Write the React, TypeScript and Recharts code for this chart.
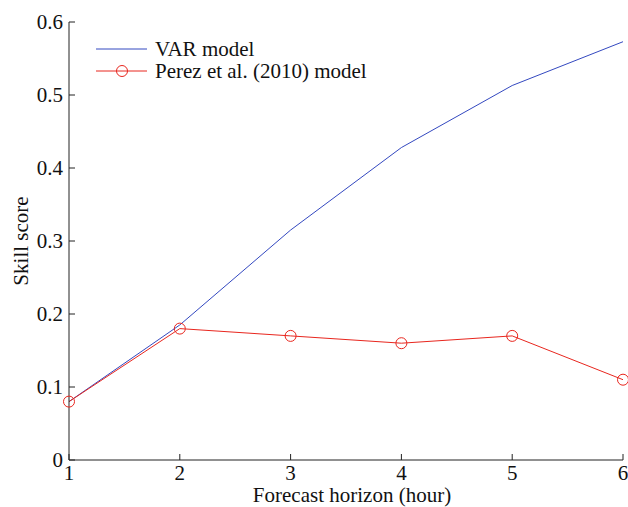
import React from "react";
import { Line, LineChart, XAxis, YAxis } from "recharts";

const horizons = [1, 2, 3, 4, 5, 6];
const varModel = [0.08, 0.185, 0.315, 0.428, 0.513, 0.573];
const perezModel = [0.08, 0.18, 0.17, 0.16, 0.17, 0.11];
const yTicks = [0, 0.1, 0.2, 0.3, 0.4, 0.5, 0.6];

const data = horizons.map((h, i) => ({
  hour: h,
  varModel: varModel[i],
  perez: perezModel[i],
}));

const FONT = "'Liberation Serif', 'Times New Roman', serif";
const BLUE = "#3348c0";
const RED = "#e8261e";
const SIZE = 21;

// tick marks point inward, matlab style
function XTick(props: any) {
  const { x, y, payload } = props;
  return (
    <g>
      <line x1={x} y1={y} x2={x} y2={y - 6} stroke="#222" strokeWidth={1} />
      <text x={x} y={y + 20} textAnchor="middle" fill="#111" style={{ fontFamily: FONT, fontSize: SIZE }}>
        {payload.value}
      </text>
    </g>
  );
}

function YTick(props: any) {
  const { x, y, payload } = props;
  return (
    <g>
      <line x1={x} y1={y} x2={x + 6} y2={y} stroke="#222" strokeWidth={1} />
      <text x={x - 6} y={y + 7} textAnchor="end" fill="#111" style={{ fontFamily: FONT, fontSize: SIZE }}>
        {payload.value}
      </text>
    </g>
  );
}

function XLabel(props: any) {
  const { viewBox } = props;
  const cx = viewBox.x + viewBox.width / 2;
  return (
    <text x={cx + 6} y={viewBox.y + 42} textAnchor="middle" fill="#111" style={{ fontFamily: FONT, fontSize: SIZE }}>
      Forecast horizon (hour)
    </text>
  );
}

function YLabel(props: any) {
  const { viewBox } = props;
  const cy = viewBox.y + viewBox.height / 2;
  const x = 28;
  return (
    <text
      x={x}
      y={cy}
      transform={`rotate(-90, ${x}, ${cy})`}
      textAnchor="middle"
      fill="#111"
      style={{ fontFamily: FONT, fontSize: SIZE }}
    >
      Skill score
    </text>
  );
}

function Circle(props: any) {
  const { cx, cy } = props;
  return <circle cx={cx} cy={cy} r={5.5} fill="none" stroke={RED} strokeWidth={1} />;
}

export default function App() {
  return (
    <div style={{ position: "fixed", left: 0, top: 0, width: 628, height: 507, background: "#fff" }}>
      <LineChart
        width={628}
        height={507}
        data={data}
        margin={{ top: 22, right: 5, bottom: 0, left: 19 }}
      >
        <XAxis
          dataKey="hour"
          type="number"
          domain={[1, 6]}
          ticks={horizons}
          tickSize={0}
          tickMargin={0}
          tickLine={false}
          tick={<XTick />}
          height={47}
          stroke="#222"
          label={<XLabel />}
        />
        <YAxis
          type="number"
          domain={[0, 0.6]}
          ticks={yTicks}
          tickSize={0}
          tickMargin={0}
          tickLine={false}
          tick={<YTick />}
          width={50}
          stroke="#222"
          label={<YLabel />}
        />
        <Line
          dataKey="varModel"
          stroke={BLUE}
          strokeWidth={1}
          dot={false}
          isAnimationActive={false}
        />
        <Line
          dataKey="perez"
          stroke={RED}
          strokeWidth={1}
          dot={<Circle />}
          activeDot={false}
          isAnimationActive={false}
        />
      </LineChart>
      <div style={{ position: "absolute", left: 96, top: 38, fontFamily: FONT, fontSize: SIZE, color: "#111", lineHeight: "22px" }}>
        <div style={{ display: "flex", alignItems: "center", height: 22 }}>
          <svg width={52} height={12} style={{ marginRight: 7 }}>
            <line x1={0} y1={6} x2={51} y2={6} stroke={BLUE} strokeWidth={1} />
          </svg>
          <span>VAR model</span>
        </div>
        <div style={{ display: "flex", alignItems: "center", height: 22 }}>
          <svg width={52} height={14} style={{ marginRight: 7 }}>
            <line x1={0} y1={7} x2={51} y2={7} stroke={RED} strokeWidth={1} />
            <circle cx={26} cy={7} r={5.5} fill="none" stroke={RED} strokeWidth={1} />
          </svg>
          <span>Perez et al. (2010) model</span>
        </div>
      </div>
    </div>
  );
}
